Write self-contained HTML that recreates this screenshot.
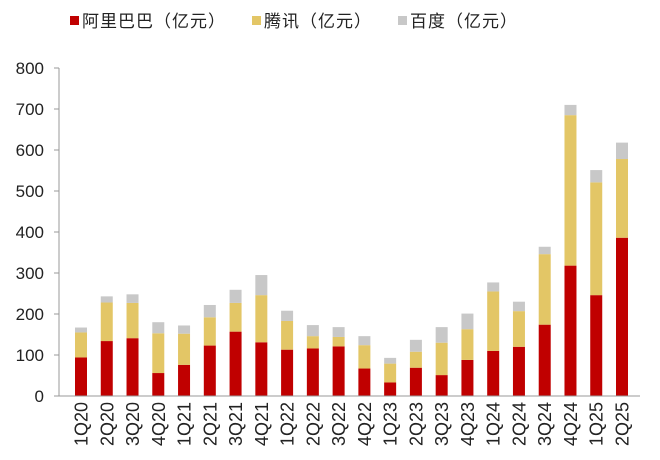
<!DOCTYPE html>
<html><head><meta charset="utf-8"><style>
body{margin:0;background:#fff;}
svg{display:block;font-family:"Liberation Sans","Noto Sans CJK SC",sans-serif;}
</style></head><body>
<svg id="chart" width="660" height="460">
<g>
 <rect x="70" y="16" width="9" height="9" fill="#c00000"/>
 <text x="82" y="27" font-size="17" letter-spacing="1" fill="#222">阿里巴巴（亿元）</text>
 <rect x="252" y="16" width="9" height="9" fill="#e3c666"/>
 <text x="264" y="27" font-size="17" letter-spacing="1" fill="#222">腾讯（亿元）</text>
 <rect x="398" y="16" width="9" height="9" fill="#c8c8c8"/>
 <text x="410" y="27" font-size="17" letter-spacing="1" fill="#222">百度（亿元）</text>
</g>
<g id="yaxis"></g>
<g id="bars"></g>
<g id="xaxis"></g>
</svg>
<script>
const categories=["1Q20","2Q20","3Q20","4Q20","1Q21","2Q21","3Q21","4Q21","1Q22","2Q22","3Q22","4Q22","1Q23","2Q23","3Q23","4Q23","1Q24","2Q24","3Q24","4Q24","1Q25","2Q25"];
const alibaba=[94,134,141,56,76,123,157,131,113,116,121,67,33,69,51,88,110,120,174,318,246,386];
const tencent=[61,94,86,97,76,69,70,115,70,30,23,57,46,39,79,75,145,87,172,367,275,192];
const baidu=[12,15,21,27,20,30,32,49,25,27,24,22,14,29,38,38,22,23,18,25,30,40];
const yTicks=[0,100,200,300,400,500,600,700,800];
const NS="http://www.w3.org/2000/svg";
const y0=396,yTop=68,yMax=800,xFirst=81,xLast=622,barW=12,axisX=59,axisRight=640;
function yScale(v){return y0-(v/yMax)*(y0-yTop);}
function xScale(i){return xFirst+i*(xLast-xFirst)/(categories.length-1);}
function mk(tag,attrs,parent){const e=document.createElementNS(NS,tag);for(const k in attrs)e.setAttribute(k,attrs[k]);parent.appendChild(e);return e;}
const ya=document.getElementById('yaxis'),ba=document.getElementById('bars'),xa=document.getElementById('xaxis');
let l=mk('line',{x1:axisX,y1:yTop,x2:axisX,y2:y0,stroke:'#999','stroke-width':1},ya);


yTicks.forEach(t=>{
 const y=yScale(t);
 const tk=mk('line',{x1:axisX-5,y1:y,x2:axisX,y2:y,stroke:'#999'},ya);
 
 
 const tx=mk('text',{x:44,y:y+6,'text-anchor':'end','font-size':17,fill:'#222'},ya);
 tx.textContent=t;
 
 
});
const series=[[alibaba,'#c00000','alibaba'],[tencent,'#e3c666','tencent'],[baidu,'#c8c8c8','baidu']];
categories.forEach((c,i)=>{
 let base=0;const cx=xScale(i);
 series.forEach(([arr,col,nm])=>{
  const v=arr[i];
  const r=mk('rect',{x:cx-barW/2,y:yScale(base+v),width:barW,height:yScale(base)-yScale(base+v),fill:col},ba);
  
  
  base+=v;
 });
 const tx=mk('text',{x:0,y:0,'text-anchor':'end','font-size':18,fill:'#222',transform:`translate(${cx+6.5},402) rotate(-90)`},xa);
 tx.textContent=c;
 
 
});
const xl=mk('line',{x1:axisX,y1:y0,x2:axisRight,y2:y0,stroke:'#999','stroke-width':1},xa);


</script>
</body></html>
